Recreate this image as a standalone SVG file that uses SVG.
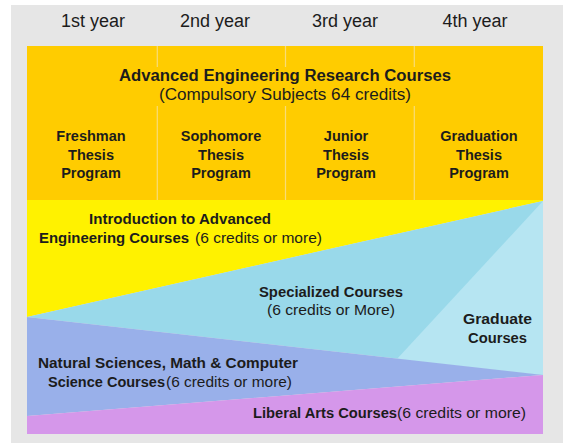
<svg xmlns="http://www.w3.org/2000/svg" width="563" height="443" viewBox="0 0 563 443">
<style>
text{font-family:"Liberation Sans",Arial,sans-serif;fill:#1c1c1c;text-anchor:middle}
.yr{font-size:18px}
.b{font-weight:bold;font-size:14.5px}
.r{font-weight:normal;font-size:14.5px}
.t1{font-weight:bold;font-size:16px}
.t2{font-weight:normal;font-size:16px}
.div{stroke:#F8DC78;stroke-width:1.2}
</style>
<rect x="0" y="0" width="563" height="443" fill="#ffffff"/>
<rect x="11" y="5" width="552" height="438" fill="#E6E6E6"/>

<g id="years">
<text class="yr" x="93" y="27">1st year</text>
<text class="yr" x="215" y="27">2nd year</text>
<text class="yr" x="345" y="27">3rd year</text>
<text class="yr" x="475" y="27">4th year</text>
</g>

<g id="research">
<rect x="27" y="46" width="516" height="154" fill="#FFCC00"/>
<line class="div" x1="157.3" y1="46" x2="157.3" y2="67"/>
<line class="div" x1="157.3" y1="106" x2="157.3" y2="200"/>
<line class="div" x1="285.5" y1="46" x2="285.5" y2="67"/>
<line class="div" x1="285.5" y1="106" x2="285.5" y2="200"/>
<line class="div" x1="414.3" y1="46" x2="414.3" y2="67"/>
<line class="div" x1="414.3" y1="106" x2="414.3" y2="200"/>
<text class="t1" x="285" y="81" textLength="332" lengthAdjust="spacingAndGlyphs">Advanced Engineering Research Courses</text>
<text class="t2" x="285" y="100" textLength="252" lengthAdjust="spacingAndGlyphs">(Compulsory Subjects 64 credits)</text>
</g>

<g id="freshman">
<text class="b" x="91" y="141">Freshman</text>
<text class="b" x="91" y="160">Thesis</text>
<text class="b" x="91" y="178">Program</text>
</g>
<g id="sophomore">
<text class="b" x="221" y="141">Sophomore</text>
<text class="b" x="221" y="160">Thesis</text>
<text class="b" x="221" y="178">Program</text>
</g>
<g id="junior">
<text class="b" x="346" y="141">Junior</text>
<text class="b" x="346" y="160">Thesis</text>
<text class="b" x="346" y="178">Program</text>
</g>
<g id="graduation">
<text class="b" x="479" y="141">Graduation</text>
<text class="b" x="479" y="160">Thesis</text>
<text class="b" x="479" y="178">Program</text>
</g>

<g id="introduction">
<polygon points="27,200 543,200 543,201 27,317" fill="#FFF200"/>
<text class="b" x="180" y="224" textLength="182" lengthAdjust="spacingAndGlyphs">Introduction to Advanced</text>
<text style="text-anchor:start" y="243"><tspan class="b" x="39" textLength="150" lengthAdjust="spacingAndGlyphs">Engineering Courses</tspan><tspan class="r" x="195" textLength="127" lengthAdjust="spacingAndGlyphs">(6 credits or more)</tspan></text>
</g>

<g id="specialized">
<polygon points="27,317 543,201 543,375" fill="#99D9EA"/>
<text class="b" x="331" y="297" textLength="144" lengthAdjust="spacingAndGlyphs">Specialized Courses</text>
<text class="r" x="331" y="315" textLength="128" lengthAdjust="spacingAndGlyphs">(6 credits or More)</text>
</g>

<g id="graduate">
<polygon points="543,201 397,359 543,375" fill="#B6E5F2"/>
<text class="b" x="497.5" y="324" textLength="69" lengthAdjust="spacingAndGlyphs">Graduate</text>
<text class="b" x="497.5" y="343" textLength="59" lengthAdjust="spacingAndGlyphs">Courses</text>
</g>

<g id="natural-sciences">
<polygon points="27,317 543,375 27,416" fill="#99B0EA"/>
<text class="b" x="168" y="368" textLength="260" lengthAdjust="spacingAndGlyphs">Natural Sciences, Math &amp; Computer</text>
<text style="text-anchor:start" y="387"><tspan class="b" x="48" textLength="117" lengthAdjust="spacingAndGlyphs">Science Courses</tspan><tspan class="r" x="166" textLength="126" lengthAdjust="spacingAndGlyphs">(6 credits or more)</tspan></text>
</g>

<g id="liberal-arts">
<polygon points="27,416 543,375 543,434 27,434" fill="#D597EA"/>
<text style="text-anchor:start" y="418"><tspan class="b" x="253" textLength="144" lengthAdjust="spacingAndGlyphs">Liberal Arts Courses</tspan><tspan class="r" x="397" textLength="129" lengthAdjust="spacingAndGlyphs">(6 credits or more)</tspan></text>
</g>

<g id="connectors"></g>
</svg>
